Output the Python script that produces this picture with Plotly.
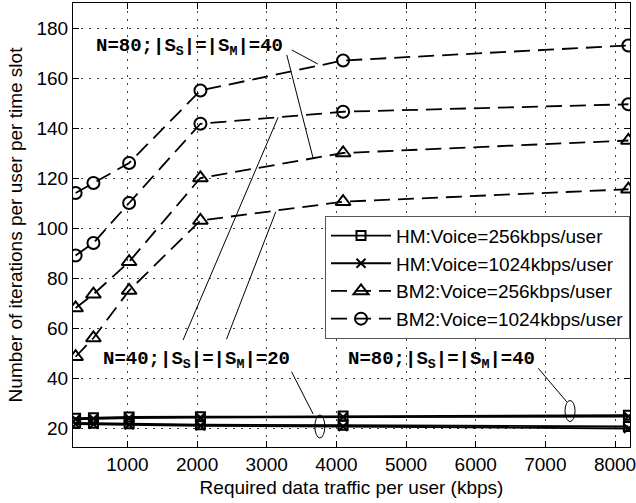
import plotly.graph_objects as go

# ---- data ----
traffic = [256, 512, 1024, 2048, 4096, 8192]

hm_256_n80 = [23.9, 24.1, 24.4, 24.5, 24.8, 25.1]
hm_1024_n80 = [23.5, 23.7, 24.0, 24.2, 24.4, 24.6]
hm_256_n40 = [22.0, 21.9, 21.7, 21.3, 21.1, 20.6]
hm_1024_n40 = [21.6, 21.5, 21.3, 20.9, 20.6, 19.8]

bm2_256_n80 = [68, 73.5, 86.5, 120, 130, 135]
bm2_256_n40 = [48.5, 56, 75, 103, 110.5, 115.5]
bm2_1024_n80 = [114, 118, 126, 155, 167, 173]
bm2_1024_n40 = [89, 94, 110, 141.7, 146.5, 149.5]

legend_names = ["HM:Voice=256kbps/user", "HM:Voice=1024kbps/user",
                "BM2:Voice=256kbps/user", "BM2:Voice=1024kbps/user"]

x_ticks = [1000, 2000, 3000, 4000, 5000, 6000, 7000, 8000]
y_ticks = [20, 40, 60, 80, 100, 120, 140, 160, 180]

FONT = "Liberation Sans, Arial, Helvetica, sans-serif"
MONO = "Liberation Mono, Courier New, monospace"
DASH = "16px,8px"

fig = go.Figure()

styles = [
    (legend_names[0], "square-open", "solid", 9, [hm_256_n80, hm_256_n40]),
    (legend_names[1], "x-thin-open", "solid", 9, [hm_1024_n80, hm_1024_n40]),
    (legend_names[2], "triangle-up-open", DASH, 13, [bm2_256_n80, bm2_256_n40]),
    (legend_names[3], "circle-open", DASH, 12, [bm2_1024_n80, bm2_1024_n40]),
]

for name, sym, dash, msize, series in styles:
    for i, ys in enumerate(series):
        fig.add_trace(go.Scatter(
            x=traffic, y=ys, mode="lines+markers", name=name,
            legendgroup=name, showlegend=(i == 0),
            line=dict(color="black", width=1.8, dash=dash),
            marker=dict(symbol=sym, size=msize, color="black",
                        line=dict(color="black", width=2)),
        ))

# ---- annotation pointer lines (data coordinates) ----
pointer_lines = [
    (3360, 171.2, 3734, 165.6),
    (3288, 169.2, 3666, 127.9),
    (1799, 55.2, 3163, 144.3),
    (2422, 55.5, 3130, 106.5),
    (3356, 42.5, 3666, 25.6),
    (6898, 43.9, 7306, 30.5),
]
for x0, y0, x1, y1 in pointer_lines:
    fig.add_shape(type="line", xref="x", yref="y", x0=x0, y0=y0, x1=x1, y1=y1,
                  line=dict(color="black", width=1))

ellipses = [(3691, 16.0, 3834, 25.2), (7282, 22.6, 7426, 31.0)]
for x0, y0, x1, y1 in ellipses:
    fig.add_shape(type="circle", xref="x", yref="y", x0=x0, y0=y0, x1=x1, y1=y1,
                  line=dict(color="black", width=1))

label80 = "N=80;|S<sub>S</sub>|=|S<sub>M</sub>|=40"
label40 = "N=40;|S<sub>S</sub>|=|S<sub>M</sub>|=20"
text_font = dict(family=MONO, size=19, color="black", weight="bold")
for txt, x, y in [(label80, 1895, 172.5), (label40, 1988, 47.3), (label80, 5508, 47.3)]:
    fig.add_annotation(x=x, y=y, xref="x", yref="y", text=txt, showarrow=False,
                       font=text_font, xanchor="center", yanchor="middle")

axis_common = dict(
    showline=True, linecolor="black", linewidth=1, mirror="ticks",
    ticks="inside", ticklen=6, tickcolor="black", tickwidth=1,
    showgrid=True, gridcolor="#444", gridwidth=1, griddash="2px,6px",
    zeroline=False, tickfont=dict(family=FONT, size=19, color="black"),
    automargin=False, ticklabeloverflow="allow",
)

fig.update_xaxes(
    range=[218.5, 8215], tickvals=x_ticks, ticktext=[str(v) for v in x_ticks],
    title=dict(text="Required data traffic per user (kbps)",
               font=dict(family=FONT, size=19, color="black"), standoff=6),
    **axis_common,
)
fig.update_yaxes(
    range=[12.4, 190], tickvals=y_ticks, ticktext=[str(v) for v in y_ticks],
    title=dict(text="Number of iterations per user per time slot",
               font=dict(family=FONT, size=19, color="black"), standoff=8),
    **axis_common,
)

fig.update_layout(
    width=636, height=503,
    margin=dict(l=73, r=6, t=3, b=56),
    paper_bgcolor="white", plot_bgcolor="white",
    showlegend=True,
    legend=dict(
        x=1, y=0.521, xanchor="right", yanchor="top",
        bgcolor="white", bordercolor="#555", borderwidth=1,
        font=dict(family=FONT, size=19, color="black"),
        itemwidth=60, tracegroupgap=0,
    ),
)

fig.write_html("out.html", config={"displayModeBar": False},
               post_script="document.body.style.margin='0';document.body.style.padding='0';")
